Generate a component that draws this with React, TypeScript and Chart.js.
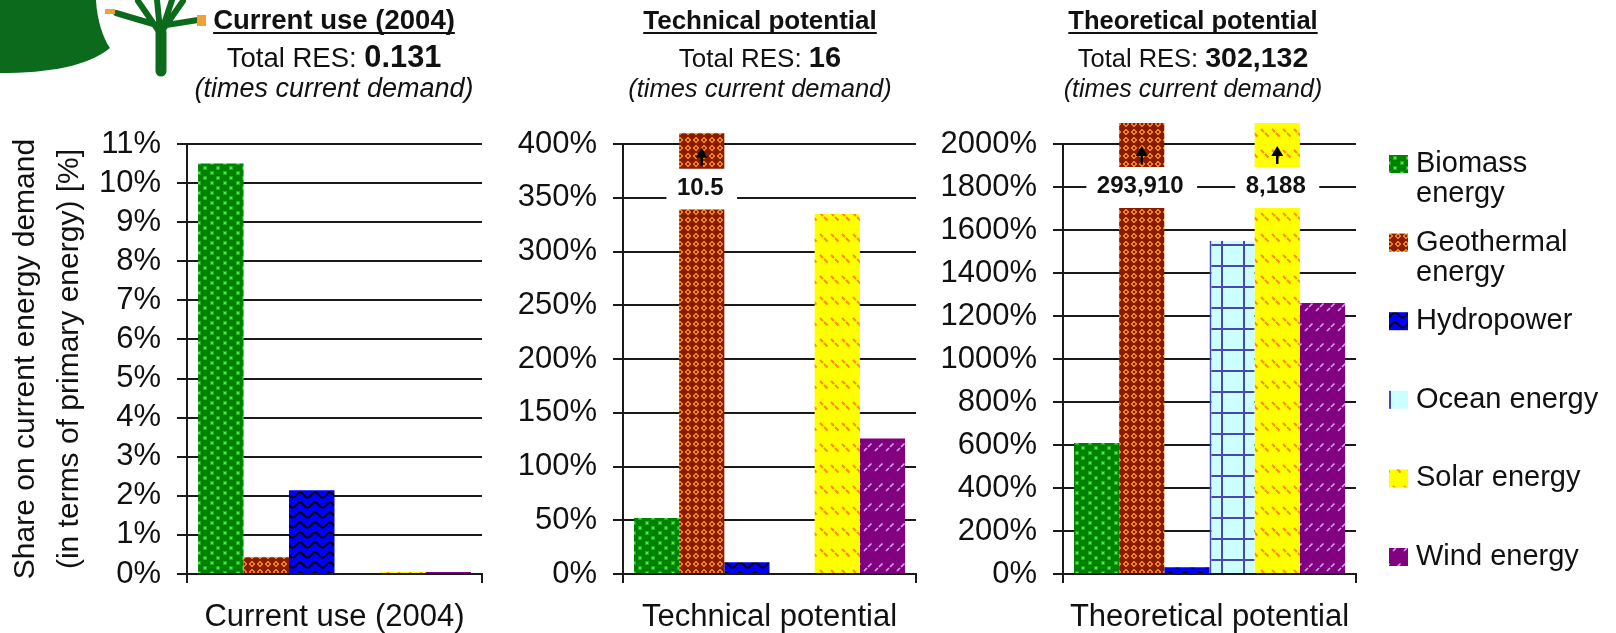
import React, { useEffect, useRef } from 'react';
import { Chart, registerables } from 'chart.js';

Chart.register(...registerables);

const FONT = "'Liberation Sans', Arial, Helvetica, sans-serif";
const INK = '#111111';
const GRID = '#1a1a1a';

// ---------------- data ----------------
const SERIES = ['Biomass energy', 'Geothermal energy', 'Hydropower', 'Ocean energy', 'Solar energy', 'Wind energy'];
const LEGEND_LINES = [['Biomass', 'energy'], ['Geothermal', 'energy'], ['Hydropower'], ['Ocean energy'], ['Solar energy'], ['Wind energy']];

const PANEL_TITLES = ['Current use (2004)', 'Technical potential', 'Theoretical potential'];
const PANEL_TOTALS = ['0.131', '16', '302,132'];
const SUBTITLE = '(times current demand)';
const Y_TITLE = ['Share on current energy demand', '(in terms of primary energy) [%]'];

const CURRENT_CATEGORY = ['Current use (2004)'];
const CURRENT_VALUES = [10.5, 0.43, 2.14, 0, 0.05, 0.05]; // % of current demand
const CURRENT_AXIS = { max: 11, step: 1 };

const TECHNICAL_CATEGORY = ['Technical potential'];
const TECHNICAL_VALUES = [52, 1050, 11, 0, 335, 126];
const TECHNICAL_AXIS = { max: 400, step: 50 };
// displayed axis-break of over-range bars (axis values)
const TECHNICAL_BREAK = { low: 339, high: 377, top: 410 };

const THEORETICAL_CATEGORY = ['Theoretical potential'];
const THEORETICAL_VALUES = [609, 29391000, 31, 1550, 818800, 1260];
const THEORETICAL_AXIS = { max: 2000, step: 200 };
const THEORETICAL_BREAK = { low: 1702, high: 1893, top: 2098 };

// ---------------- layout ----------------
const HEIGHT = 633;
const PLOT_TOP = 144;
const PLOT_BOTTOM = 574;
const LAYOUT = [
  { left: 0, width: 500, axisWidth: 187, padRight: 18, headingX: 334, headScale: 1.08 },
  { left: 500, width: 430, axisWidth: 123, padRight: 14, headingX: 260, headScale: 1.02 },
  { left: 930, width: 686, axisWidth: 133, padRight: 260, headingX: 263, headScale: 1.0 },
];

const PANELS = [
  { category: CURRENT_CATEGORY, values: CURRENT_VALUES, axis: CURRENT_AXIS, brk: null as any },
  { category: TECHNICAL_CATEGORY, values: TECHNICAL_VALUES, axis: TECHNICAL_AXIS, brk: TECHNICAL_BREAK },
  { category: THEORETICAL_CATEGORY, values: THEORETICAL_VALUES, axis: THEORETICAL_AXIS, brk: THEORETICAL_BREAK },
];

// ---------------- patterns ----------------
function makeTile(w: number, h: number, paint: (g: CanvasRenderingContext2D) => void) {
  const c = document.createElement('canvas');
  c.width = w;
  c.height = h;
  const g = c.getContext('2d')!;
  paint(g);
  return c;
}

function makePatterns(ctx: CanvasRenderingContext2D) {
  const tiles = [
    // biomass: green with bright dots
    makeTile(13, 10, (g) => {
      g.fillStyle = '#008200';
      g.fillRect(0, 0, 13, 10);
      g.fillStyle = 'rgba(60,215,60,0.55)';
      g.fillRect(2, 1, 4, 4);
      g.fillRect(8, 6, 4, 4);
      g.fillStyle = '#44f044';
      g.fillRect(3, 2, 2, 2);
      g.fillRect(9, 7, 2, 2);
    }),
    // geothermal: brown with orange diamonds
    makeTile(8, 8, (g) => {
      g.fillStyle = '#8a1a00';
      g.fillRect(0, 0, 8, 8);
      g.fillStyle = '#ea8212';
      for (let y = 0; y < 8; y++) {
        for (let x = 0; x < 8; x++) {
          const d = Math.abs(x + 0.5 - 4) + Math.abs(y + 0.5 - 4);
          if (d <= 3.5 && d > 1.5) g.fillRect(x, y, 1, 1);
        }
      }
    }),
    // hydropower: blue with black waves
    makeTile(15, 10, (g) => {
      g.fillStyle = '#0000ff';
      g.fillRect(0, 0, 15, 10);
      g.strokeStyle = '#000000';
      g.lineWidth = 2;
      g.beginPath();
      for (let x = -1; x <= 16; x += 0.5) {
        const y = 5 - 2.6 * Math.cos((2 * Math.PI * x) / 15);
        if (x === -1) g.moveTo(x, y);
        else g.lineTo(x, y);
      }
      g.stroke();
    }),
    // ocean: light cyan with blue grid
    makeTile(22, 21, (g) => {
      g.fillStyle = '#ccffff';
      g.fillRect(0, 0, 22, 21);
      g.fillStyle = '#4848b2';
      g.fillRect(5, 0, 2, 21);
      g.fillRect(0, 13, 22, 2);
    }),
    // solar: yellow with orange dashed "\" strokes
    makeTile(11, 21, (g) => {
      g.fillStyle = '#ffff00';
      g.fillRect(0, 0, 11, 21);
      g.strokeStyle = '#ff8c00';
      g.lineWidth = 2;
      g.beginPath();
      g.moveTo(1, 3); g.lineTo(4, 6);
      g.moveTo(5, 7); g.lineTo(8.5, 10.5);
      g.stroke();
    }),
    // wind: purple with light "/" strokes
    makeTile(11, 20, (g) => {
      g.fillStyle = '#800080';
      g.fillRect(0, 0, 11, 20);
      g.strokeStyle = '#d99cf2';
      g.lineWidth = 1.7;
      g.beginPath();
      g.moveTo(1, 11); g.lineTo(4, 8);
      g.moveTo(5, 7); g.lineTo(8.5, 3.5);
      g.stroke();
    }),
  ];
  return tiles.map((t) => ctx.createPattern(t, 'repeat') as CanvasPattern);
}

// ---------------- drawing helpers ----------------
function drawHeading(ctx: CanvasRenderingContext2D, cx: number, title: string, total: string, k: number) {
  ctx.save();
  ctx.fillStyle = INK;
  ctx.textBaseline = 'alphabetic';
  ctx.textAlign = 'center';
  ctx.font = `bold ${25.5 * k}px ${FONT}`;
  ctx.fillText(title, cx, 29);
  const tw = ctx.measureText(title).width;
  ctx.fillRect(cx - tw / 2, 32, tw, 2);

  const lead = 'Total RES: ';
  ctx.font = `${25.5 * k}px ${FONT}`;
  const wa = ctx.measureText(lead).width;
  ctx.font = `bold ${28.5 * k}px ${FONT}`;
  const wb = ctx.measureText(total).width;
  const x0 = cx - (wa + wb) / 2;
  ctx.textAlign = 'left';
  ctx.font = `${25.5 * k}px ${FONT}`;
  ctx.fillText(lead, x0, 66.5);
  ctx.font = `bold ${28.5 * k}px ${FONT}`;
  ctx.fillText(total, x0 + wa, 66.5);

  ctx.textAlign = 'center';
  ctx.font = `italic ${25 * k}px ${FONT}`;
  ctx.fillText(SUBTITLE, cx, 96.5);
  ctx.restore();
}

function drawLogo(ctx: CanvasRenderingContext2D) {
  ctx.save();
  const green = '#0c6a1d';
  ctx.fillStyle = green;
  ctx.beginPath();
  ctx.moveTo(0, 0);
  ctx.lineTo(96, 0);
  ctx.bezierCurveTo(97, 20, 103, 38, 110, 48);
  ctx.bezierCurveTo(88, 66, 50, 73, 0, 73);
  ctx.closePath();
  ctx.fill();
  ctx.strokeStyle = green;
  ctx.lineCap = 'round';
  ctx.lineWidth = 11;
  ctx.beginPath();
  ctx.moveTo(161, 71);
  ctx.lineTo(161, 32);
  ctx.stroke();
  ctx.lineWidth = 6;
  ctx.beginPath();
  ctx.moveTo(158, 30); ctx.lineTo(138, 1);
  ctx.moveTo(160, 30); ctx.lineTo(157, 0);
  ctx.moveTo(162, 30); ctx.lineTo(172, 0);
  ctx.moveTo(164, 28); ctx.lineTo(183, 1);
  ctx.moveTo(160, 26); ctx.lineTo(116, 13);
  ctx.moveTo(160, 26); ctx.lineTo(198, 20);
  ctx.stroke();
  ctx.fillStyle = '#f0a038';
  ctx.fillRect(105, 9, 10, 5);
  ctx.fillRect(197, 15, 9, 11);
  ctx.restore();
}

function drawLegend(ctx: CanvasRenderingContext2D, patterns: CanvasPattern[]) {
  ctx.save();
  const swX = 459;
  const txX = 486;
  ctx.font = `29px ${FONT}`;
  ctx.textBaseline = 'middle';
  ctx.textAlign = 'left';
  LEGEND_LINES.forEach((lines, i) => {
    const cy = 164 + i * 78.6;
    if (i === 3) {
      ctx.fillStyle = '#ccffff';
      ctx.fillRect(swX, cy - 9, 19, 18);
      ctx.fillStyle = '#4848b2';
      ctx.fillRect(swX, cy - 9, 2, 18);
    } else {
      ctx.fillStyle = patterns[i];
      ctx.fillRect(swX, cy - 9, 19, 18);
    }
    ctx.fillStyle = INK;
    lines.forEach((ln, j) => ctx.fillText(ln, txX, cy + j * 30));
  });
  ctx.restore();
}

function drawBreaks(chart: any) {
  const ctx: CanvasRenderingContext2D = chart.ctx;
  chart.data.datasets.forEach((ds: any, i: number) => {
    if (!ds.isBreakTop) return;
    const upper = chart.getDatasetMeta(i).data[0];
    const lower = chart.getDatasetMeta(i - 1).data[0];
    if (!upper || !lower) return;
    const { x, base } = upper.getProps(['x', 'base'], true);
    const upperBottom = base;
    const lowerTop = lower.getProps(['y'], true).y;
    const text = (ds.realValue / 100).toLocaleString('en-US');
    ctx.save();
    ctx.font = `bold 24px ${FONT}`;
    const tw = ctx.measureText(text).width;
    ctx.fillStyle = '#ffffff';
    ctx.fillRect(x - tw / 2 - 12, upperBottom + 1, tw + 24, lowerTop - upperBottom - 2);
    ctx.fillStyle = INK;
    ctx.textAlign = 'center';
    ctx.textBaseline = 'alphabetic';
    ctx.fillText(text, x - 1.5, lowerTop - 15);
    // arrow
    ctx.strokeStyle = '#000';
    ctx.fillStyle = '#000';
    ctx.lineWidth = 2.5;
    const ab = upperBottom - 3;
    const at = upperBottom - 21;
    ctx.beginPath();
    ctx.moveTo(x, ab);
    ctx.lineTo(x, at + 8);
    ctx.stroke();
    ctx.beginPath();
    ctx.moveTo(x, at);
    ctx.lineTo(x - 6, at + 10);
    ctx.lineTo(x + 6, at + 10);
    ctx.closePath();
    ctx.fill();
    ctx.restore();
  });
}

// ---------------- chart config ----------------
function buildDatasets(values: number[], max: number, brk: any, patterns: CanvasPattern[]) {
  const out: any[] = [];
  values.forEach((v, i) => {
    const broken = brk && v > max;
    out.push({
      label: SERIES[i],
      data: [broken ? [0, brk.low] : v],
      backgroundColor: patterns[i],
      borderColor: '#4848b2',
      borderWidth: i === 3 ? { left: 2, right: 0, top: 0, bottom: 0 } : 0,
      borderSkipped: false,
      stack: 's' + i,
      clip: false,
      realValue: v,
    });
    if (broken) {
      out.push({
        label: SERIES[i] + ' (continued)',
        data: [[brk.high, brk.top]],
        backgroundColor: patterns[i],
        borderWidth: 0,
        stack: 's' + i,
        clip: false,
        isBreakTop: true,
        realValue: v,
      });
    }
  });
  return out;
}

function makeConfig(index: number, ctx: CanvasRenderingContext2D) {
  const panel = PANELS[index];
  const lay = LAYOUT[index];
  const patterns = makePatterns(ctx);
  const datasets = buildDatasets(panel.values, panel.axis.max, panel.brk, patterns);
  const plugin = {
    id: 'panelDecor' + index,
    afterDatasetsDraw(chart: any) {
      drawBreaks(chart);
    },
    afterDraw(chart: any) {
      const c = chart.ctx;
      if (index === 0) drawLogo(c);
      drawHeading(c, lay.headingX, PANEL_TITLES[index], PANEL_TOTALS[index], lay.headScale);
      if (index === 2) drawLegend(c, patterns);
    },
  };
  return {
    type: 'bar',
    data: { labels: panel.category, datasets },
    options: {
      animation: false,
      responsive: false,
      events: [],
      layout: { padding: { left: 0, right: lay.padRight, top: PLOT_TOP, bottom: 0 } },
      datasets: { bar: { categoryPercentage: 0.925, barPercentage: 1 } },
      plugins: { legend: { display: false }, tooltip: { enabled: false }, title: { display: false } },
      scales: {
        x: {
          type: 'category',
          offset: true,
          grid: { display: true, drawOnChartArea: false, drawTicks: true, tickLength: 9, offset: true, color: GRID, lineWidth: 2 },
          border: { display: true, color: GRID, width: 2 },
          ticks: { color: INK, font: { size: 31, family: FONT }, padding: 16, maxRotation: 0, autoSkip: false },
          afterFit: (s: any) => {
            s.height = HEIGHT - PLOT_BOTTOM;
          },
        },
        y: {
          min: 0,
          max: panel.axis.max,
          stacked: false,
          grid: { color: GRID, lineWidth: 2, tickLength: 10, drawTicks: true },
          border: { display: true, color: GRID, width: 2 },
          ticks: {
            stepSize: panel.axis.step,
            autoSkip: false,
            color: INK,
            padding: 16,
            font: { size: 31, family: FONT },
            callback: (v: any) => `${v}%`,
          },
          title: {
            display: index === 0,
            text: Y_TITLE,
            color: INK,
            font: { size: 30, family: FONT, lineHeight: 1.47 },
            padding: { top: 4, bottom: 0 },
          },
          afterFit: (s: any) => {
            s.width = lay.axisWidth;
          },
        },
      },
    },
    plugins: [plugin],
  } as any;
}

export default function App() {
  const r0 = useRef<HTMLCanvasElement>(null);
  const r1 = useRef<HTMLCanvasElement>(null);
  const r2 = useRef<HTMLCanvasElement>(null);
  const refs = [r0, r1, r2];

  useEffect(() => {
    document.body.style.margin = '0';
    Chart.defaults.font.family = FONT;
    const charts = refs.map((r, i) => {
      const cv = r.current!;
      const ctx = cv.getContext('2d')!;
      return new Chart(ctx, makeConfig(i, ctx));
    });
    return () => charts.forEach((c) => c.destroy());
  }, []);

  return (
    <div style={{ position: 'relative', width: 1616, height: HEIGHT, background: '#ffffff', overflow: 'hidden' }}>
      {LAYOUT.map((l, i) => (
        <canvas
          key={i}
          ref={refs[i]}
          width={l.width}
          height={HEIGHT}
          style={{ position: 'absolute', left: l.left, top: 0, width: l.width, height: HEIGHT }}
        />
      ))}
    </div>
  );
}
